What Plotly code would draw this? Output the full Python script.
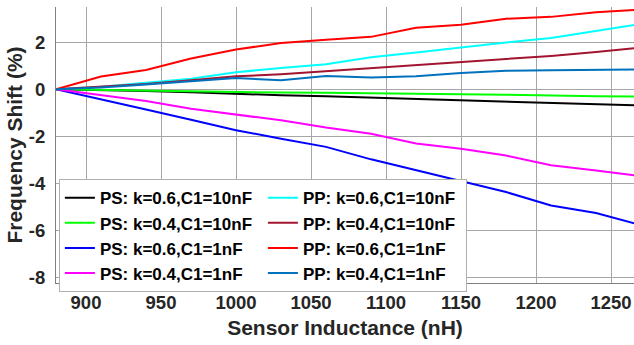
import plotly.graph_objects as go

inductance = [880, 910, 940, 970, 1000, 1030, 1060, 1090, 1120, 1150, 1180, 1210, 1240, 1270]

ps_k06_c10 = [0, -0.03, -0.07, -0.13, -0.20, -0.25, -0.30, -0.36, -0.42, -0.47, -0.53, -0.59, -0.64, -0.69]
ps_k04_c10 = [0, -0.03, -0.06, -0.10, -0.13, -0.14, -0.15, -0.18, -0.20, -0.21, -0.23, -0.28, -0.30, -0.31]
ps_k06_c1 = [0, -0.42, -0.86, -1.30, -1.74, -2.10, -2.45, -2.98, -3.45, -3.91, -4.37, -4.94, -5.26, -5.78]
ps_k04_c1 = [0, -0.26, -0.50, -0.83, -1.08, -1.32, -1.63, -1.89, -2.31, -2.53, -2.82, -3.23, -3.45, -3.70]
pp_k06_c10 = [0, 0.11, 0.28, 0.45, 0.72, 0.91, 1.06, 1.36, 1.56, 1.79, 1.99, 2.18, 2.47, 2.78]
pp_k04_c10 = [0, 0.10, 0.22, 0.38, 0.55, 0.64, 0.77, 0.89, 1.05, 1.18, 1.28, 1.42, 1.59, 1.77]
pp_k06_c1 = [0, 0.54, 0.82, 1.31, 1.69, 1.97, 2.11, 2.23, 2.62, 2.75, 3.00, 3.08, 3.28, 3.39]
pp_k04_c1 = [0, 0.08, 0.20, 0.35, 0.48, 0.38, 0.57, 0.50, 0.55, 0.69, 0.79, 0.81, 0.81, 0.84]

x_ticks = [900, 950, 1000, 1050, 1100, 1150, 1200, 1250]
y_ticks = [-8, -6, -4, -2, 0, 2]

series = [
    ("PS: k=0.6,C1=10nF", ps_k06_c10, "#000000", 1),
    ("PS: k=0.4,C1=10nF", ps_k04_c10, "#00ff00", 3),
    ("PS: k=0.6,C1=1nF", ps_k06_c1, "#0000ff", 5),
    ("PS: k=0.4,C1=1nF", ps_k04_c1, "#ff00ff", 7),
    ("PP: k=0.6,C1=10nF", pp_k06_c10, "#00ffff", 2),
    ("PP: k=0.4,C1=10nF", pp_k04_c10, "#a2142f", 4),
    ("PP: k=0.6,C1=1nF", pp_k06_c1, "#ff0000", 6),
    ("PP: k=0.4,C1=1nF", pp_k04_c1, "#0072bd", 8),
]

fig = go.Figure()
for name, vals, color, rank in series:
    fig.add_trace(go.Scatter(
        x=inductance, y=vals, mode="lines", name=name,
        line=dict(color=color, width=2), legendrank=rank,
    ))

font_family = "Liberation Sans, Arial, sans-serif"
fig.update_layout(
    width=634, height=345,
    margin=dict(l=56, r=0, t=7, b=62, autoexpand=False),
    plot_bgcolor="white", paper_bgcolor="white",
    font=dict(family=font_family, size=17, color="#262626"),
    showlegend=True,
    legend=dict(
        orientation="h", entrywidth=158, entrywidthmode="pixels",
        x=0.005, y=0.376, xanchor="left", yanchor="top",
        bgcolor="white", bordercolor="#b0b0b0", borderwidth=1,
        font=dict(family=font_family, size=17, color="#000000", weight="bold"),
        tracegroupgap=0, itemwidth=30,
    ),
    xaxis=dict(
        range=[880, 1265.3], tickvals=x_ticks, ticktext=[str(v) for v in x_ticks],
        showgrid=True, gridcolor="#a6a6a6", gridwidth=1, automargin=False,
        showline=True, linecolor="#808080", linewidth=1, zeroline=False,
        tickfont=dict(size=18.5, weight="bold"), ticklabelstandoff=3,
        title=dict(text="Sensor Inductance (nH)", font=dict(size=21, weight="bold"), standoff=8),
    ),
    yaxis=dict(
        range=[-8.24, 3.50], tickvals=y_ticks, ticktext=[str(v) for v in y_ticks],
        showgrid=True, gridcolor="#a6a6a6", gridwidth=1, automargin=False,
        showline=True, linecolor="#808080", linewidth=1, zeroline=False,
        tickfont=dict(size=18.5, weight="bold"), ticklabelstandoff=6,
        title=dict(text="Frequency Shift (%)", font=dict(size=21, weight="bold"), standoff=0),
    ),
)

fig.write_html("out.html", post_script="document.body.style.margin='0';",
               config={"displayModeBar": False})
